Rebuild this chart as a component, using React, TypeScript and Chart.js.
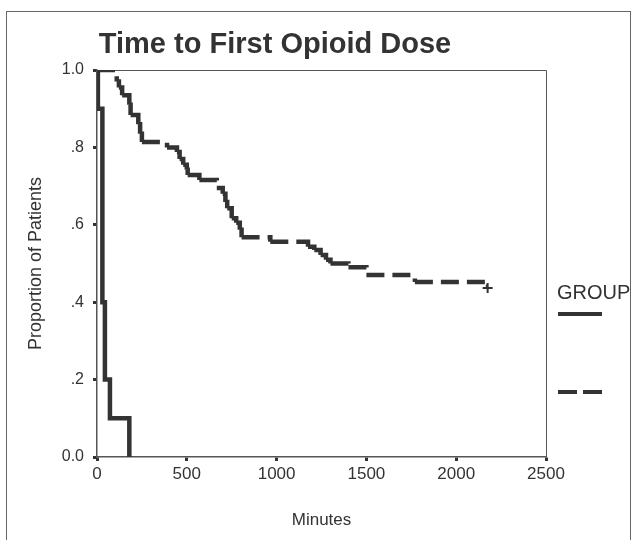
import React, { useEffect, useRef } from 'react';
import { Chart, registerables } from 'chart.js';

Chart.register(...registerables);

const chartTitle = 'Time to First Opioid Dose';
const xAxisTitle = 'Minutes';
const yAxisTitle = 'Proportion of Patients';
const legendTitle = 'GROUP';

const xTickValues = [0, 500, 1000, 1500, 2000, 2500];
const yTickValues = [0, 0.2, 0.4, 0.6, 0.8, 1.0];
const yTickLabels = ['0.0', '.2', '.4', '.6', '.8', '1.0'];

// Group 1 (solid line): time (minutes) at which the proportion steps to the value
const solidTimes = [0, 5, 30, 44, 72, 180];
const solidValues = [1.0, 0.9, 0.4, 0.2, 0.1, 0.0];

// Group 2 (dashed line)
const dashedTimes = [0, 110, 122, 140, 180, 187, 230, 240, 250, 390, 445, 460, 480, 500, 505, 570, 667, 700, 715, 725, 750, 775, 795, 805, 965, 1175, 1210, 1245, 1275, 1300, 1400, 1500, 1770, 2165, 2175];
const dashedValues = [1.0, 0.97, 0.955, 0.935, 0.91, 0.884, 0.86, 0.835, 0.814, 0.80, 0.788, 0.77, 0.755, 0.742, 0.729, 0.716, 0.695, 0.68, 0.659, 0.643, 0.617, 0.605, 0.587, 0.568, 0.556, 0.543, 0.535, 0.522, 0.51, 0.50, 0.49, 0.47, 0.452, 0.44, 0.44];

// Censored observation marker
const censorTimes = [2175];
const censorValues = [0.437];

const FONT = "'Liberation Sans', Arial, sans-serif";
const INK = '#333333';

export default function App() {
  const canvasRef = useRef<HTMLCanvasElement | null>(null);

  useEffect(() => {
    const canvas = canvasRef.current;
    if (!canvas) return;

    const toPoints = (xs: number[], ys: number[]) => xs.map((x, i) => ({ x, y: ys[i] }));

    const decorPlugin = {
      id: 'decor',
      beforeDatasetsDraw(chart: any) {
        const { ctx, chartArea } = chart;
        ctx.save();
        ctx.strokeStyle = '#555555';
        ctx.lineWidth = 1;
        ctx.beginPath();
        ctx.moveTo(chartArea.left, chartArea.top + 0.5);
        ctx.lineTo(chartArea.right + 0.5, chartArea.top + 0.5);
        ctx.lineTo(chartArea.right + 0.5, chartArea.bottom);
        ctx.stroke();
        ctx.restore();
      },
      afterDraw(chart: any) {
        const { ctx } = chart;
        ctx.save();
        // Title
        ctx.fillStyle = INK;
        ctx.font = `bold 29px ${FONT}`;
        ctx.textAlign = 'center';
        ctx.textBaseline = 'alphabetic';
        ctx.fillText(chartTitle, 275, 53);
        // Legend
        ctx.font = `20px ${FONT}`;
        ctx.textAlign = 'left';
        ctx.fillText(legendTitle, 557, 299);
        ctx.strokeStyle = INK;
        ctx.lineWidth = 4;
        ctx.beginPath();
        ctx.moveTo(558, 314);
        ctx.lineTo(602, 314);
        ctx.stroke();
        ctx.setLineDash([19, 6]);
        ctx.beginPath();
        ctx.moveTo(558, 392);
        ctx.lineTo(602, 392);
        ctx.stroke();
        ctx.restore();
      },
    };

    const chart = new Chart(canvas, {
      type: 'line',
      data: {
        datasets: [
          {
            label: 'Group 1',
            data: toPoints(solidTimes, solidValues),
            borderColor: INK,
            borderWidth: 4.5,
            stepped: 'before',
            pointRadius: 0,
            fill: false,
            borderCapStyle: 'butt',
          },
          {
            label: 'Group 2',
            data: toPoints(dashedTimes, dashedValues),
            borderColor: INK,
            borderWidth: 4.5,
            borderDash: [18, 8],
            stepped: 'before',
            pointRadius: 0,
            fill: false,
            borderCapStyle: 'butt',
            // restart the dash pattern at every step (each segment drawn on its own)
            segment: {
              borderDashOffset: (c: any) => (c.p0DataIndex % 2 === 0 ? 0 : 0.0001),
            },
          },
          {
            label: 'Censored',
            data: toPoints(censorTimes, censorValues),
            showLine: false,
            pointStyle: 'cross',
            pointRadius: 5,
            borderColor: INK,
            borderWidth: 2,
          },
        ],
      },
      options: {
        responsive: false,
        animation: false,
        events: [],
        layout: { padding: { left: 0, top: 70, right: 92, bottom: 0 } },
        plugins: {
          legend: { display: false },
          title: { display: false },
          tooltip: { enabled: false },
        },
        scales: {
          x: {
            type: 'linear',
            min: 0,
            max: 2500,
            afterFit(scale: any) { scale.height = 83; },
            afterBuildTicks(scale: any) { scale.ticks = xTickValues.map((v) => ({ value: v })); },
            ticks: {
              color: INK,
              font: { family: FONT, size: 17 },
              padding: 3,
              maxRotation: 0,
              callback: (v: any) => String(v),
            },
            grid: {
              display: true,
              drawOnChartArea: false,
              drawTicks: true,
              tickLength: 4,
              tickWidth: 3,
              tickColor: INK,
            },
            border: { display: true, color: '#555555', width: 1.5 },
            title: {
              display: true,
              text: xAxisTitle,
              color: INK,
              font: { family: FONT, size: 17 },
              padding: { top: 0, bottom: 9 },
            },
          },
          y: {
            type: 'linear',
            min: 0,
            max: 1,
            afterFit(scale: any) { scale.width = 97; },
            afterBuildTicks(scale: any) { scale.ticks = yTickValues.map((v) => ({ value: v })); },
            ticks: {
              color: INK,
              font: { family: FONT, size: 16 },
              padding: 9,
              callback: (v: any) => {
                const i = yTickValues.findIndex((t) => Math.abs(t - Number(v)) < 1e-9);
                return i >= 0 ? yTickLabels[i] : '';
              },
            },
            grid: {
              display: true,
              drawOnChartArea: false,
              drawTicks: true,
              tickLength: 4,
              tickWidth: 3,
              tickColor: INK,
            },
            border: { display: true, color: '#555555', width: 1.5 },
            title: {
              display: true,
              text: yAxisTitle,
              color: INK,
              font: { family: FONT, size: 18 },
              padding: { top: 25, bottom: 0 },
            },
          },
        },
      },
      plugins: [decorPlugin],
    } as any);

    return () => chart.destroy();
  }, []);

  return (
    <div style={{ position: 'absolute', left: 0, top: 0, width: 638, height: 540, overflow: 'hidden', background: '#ffffff' }}>
      <div style={{ position: 'absolute', left: 6, top: 11, width: 623, height: 560, borderTop: '1.5px solid #666', borderLeft: '1.5px solid #666', borderRight: '1.5px solid #666' }} />
      <canvas ref={canvasRef} width={638} height={540} style={{ position: 'absolute', left: 0, top: 0 }} />
    </div>
  );
}
